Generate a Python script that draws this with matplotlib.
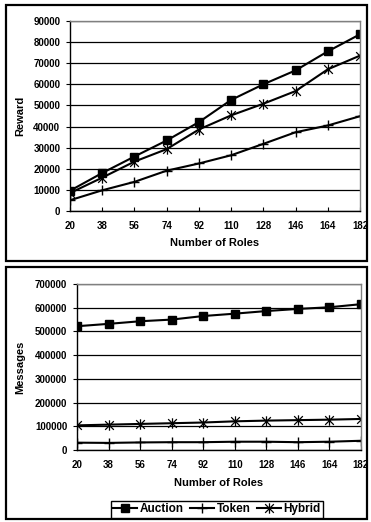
import numpy as np
import matplotlib
matplotlib.use('Agg')
import matplotlib.pyplot as plt
from matplotlib.patches import Rectangle
from matplotlib.path import Path

plt.rcParams['font.family'] = ['Liberation Sans', 'DejaVu Sans']
plt.rcParams['font.weight'] = 'bold'

roles = [20, 38, 56, 74, 92, 110, 128, 146, 164, 182]

# Reward (top chart)
rewardAuction = [9600, 18000, 25800, 33400, 42100, 52600, 60000, 66600, 75600, 83700]
rewardToken = [5100, 9800, 13800, 19100, 22500, 26400, 31800, 37300, 40500, 44900]
rewardHybrid = [8500, 15800, 23400, 29300, 38600, 45300, 50800, 56800, 67100, 73600]

# Messages (bottom chart)
msgAuction = [522000, 532000, 543000, 550000, 565000, 575000, 586000, 595000, 602000, 615000]
msgToken = [31000, 30000, 32000, 33000, 33000, 35000, 35000, 33000, 35000, 39000]
msgHybrid = [104000, 107000, 110000, 113000, 116000, 121000, 124000, 126000, 128000, 131000]

# Excel style "star" marker: an X with a vertical bar
starPath = Path([(-1, -1), (1, 1), (-1, 1), (1, -1), (0, -1.2), (0, 1.2)],
                [Path.MOVETO, Path.LINETO, Path.MOVETO, Path.LINETO, Path.MOVETO, Path.LINETO])

fig = plt.figure(figsize=(3.71, 5.22), dpi=100)

# outer boxes round each chart
fig.patches.append(Rectangle((0.0162, 0.5), 0.973, 0.4904, transform=fig.transFigure,
                             fill=False, edgecolor='black', linewidth=1.6))
fig.patches.append(Rectangle((0.0162, 0.0057), 0.973, 0.4828, transform=fig.transFigure,
                             fill=False, edgecolor='black', linewidth=1.6))

ax1 = fig.add_axes([0.1887, 0.5958, 0.7817, 0.364])
ax2 = fig.add_axes([0.2075, 0.1379, 0.7655, 0.318])

def drawSeries(ax, auction, token, hybrid):
    ax.plot(roles, auction, color='black', lw=1.5, marker='s', ms=5.5, label='Auction')
    ax.plot(roles, token, color='black', lw=1.5, marker='+', ms=7, mew=1, label='Token')
    ax.plot(roles, hybrid, color='black', lw=1.5, marker=starPath, ms=7.5, mew=0.9,
            mfc='none', label='Hybrid')

def styleAxes(ax, ymax, ystep):
    ax.set_xlim(20, 182)
    ax.set_ylim(0, ymax)
    ax.set_xticks(roles)
    ax.set_yticks(np.arange(0, ymax + 1, ystep))
    ax.yaxis.grid(True, color='black', linewidth=0.9)
    ax.set_axisbelow(True)
    for s in ['top', 'right']:
        ax.spines[s].set_color('#808080')
        ax.spines[s].set_linewidth(1)
    for s in ['left', 'bottom']:
        ax.spines[s].set_color('black')
        ax.spines[s].set_linewidth(1)
    ax.tick_params(axis='x', direction='in', length=3, labelsize=7, pad=7)
    ax.tick_params(axis='y', direction='out', length=3, labelsize=7, pad=4)
    for lab in ax.get_xticklabels() + ax.get_yticklabels():
        lab.set_fontweight('bold')

drawSeries(ax1, rewardAuction, rewardToken, rewardHybrid)
styleAxes(ax1, 90000, 10000)
ax1.set_xlabel('Number of Roles', fontsize=8, fontweight='bold')
ax1.set_ylabel('Reward', fontsize=8, fontweight='bold')
ax1.xaxis.set_label_coords(0.5, -0.142)
ax1.yaxis.set_label_coords(-0.155, 0.5)

drawSeries(ax2, msgAuction, msgToken, msgHybrid)
styleAxes(ax2, 700000, 100000)
ax2.set_xlabel('Number of Roles', fontsize=8, fontweight='bold')
ax2.set_ylabel('Messages', fontsize=8, fontweight='bold')
ax2.xaxis.set_label_coords(0.5, -0.169)
ax2.yaxis.set_label_coords(-0.183, 0.5)

handles, labels = ax2.get_legend_handles_labels()
leg = fig.legend(handles, labels, loc='center', bbox_to_anchor=(0.585, 0.024), ncol=3,
                 fancybox=False, edgecolor='black', framealpha=1, numpoints=1,
                 handlelength=2.0, handletextpad=0.2, columnspacing=0.6,
                 borderpad=0.2, prop={'size': 8.5, 'weight': 'bold'})
leg.get_frame().set_linewidth(1)

fig.savefig('out.png', dpi=100)
